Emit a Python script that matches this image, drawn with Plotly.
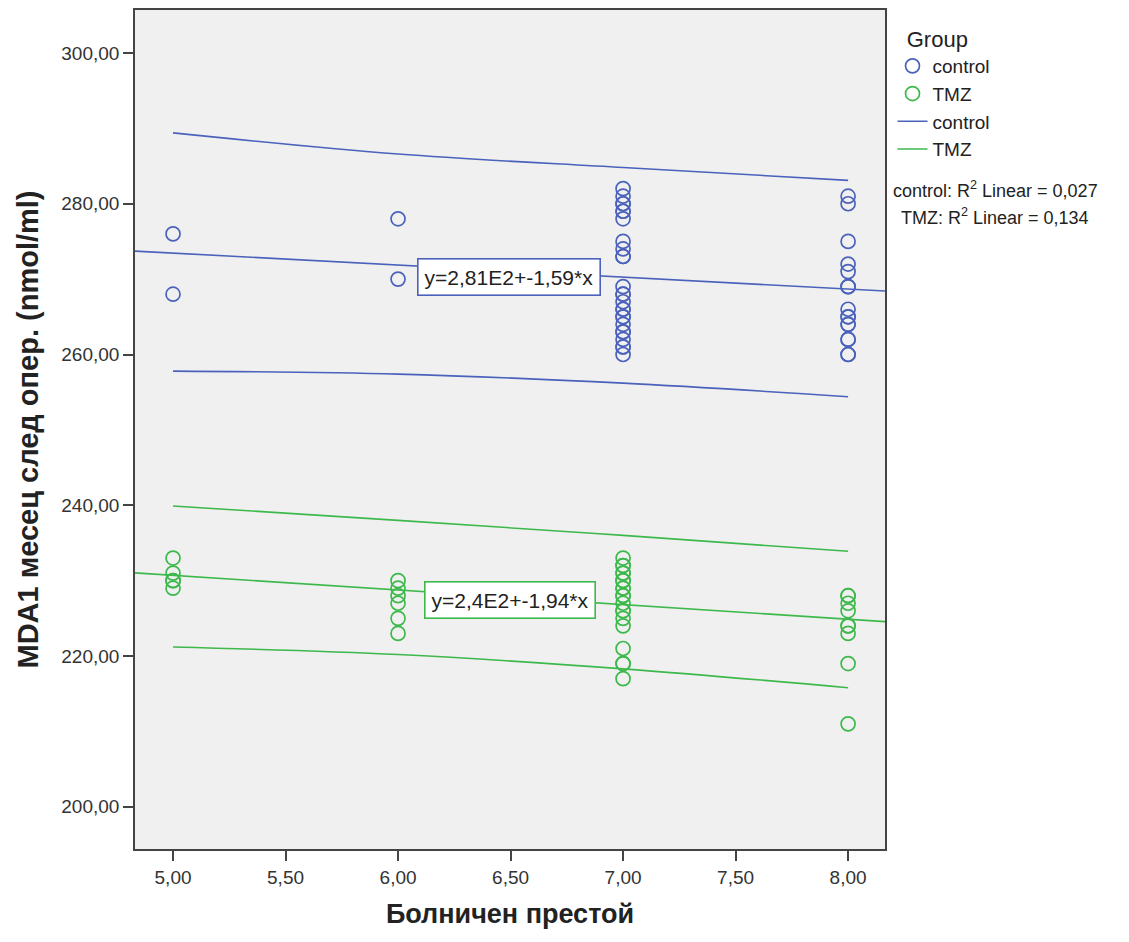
import plotly.graph_objects as go

# ---- data ----
ctrl_x = [5, 5, 6, 6] + [7] * 26 + [8] * 16
ctrl_y = [276, 268, 278, 270,
          282, 281, 280, 280, 279, 279, 278, 275, 274, 273, 273,
          269, 268, 268, 267, 266, 266, 265, 265, 264, 263, 263, 262, 261, 261, 260,
          281, 280, 275, 272, 271, 269, 269, 266, 265, 265, 264, 264, 262, 262, 260, 260]

tmz_x = [5] * 5 + [6] * 6 + [7] * 20 + [8] * 9
tmz_y = [233, 231, 230, 230, 229,
         230, 229, 228, 227, 225, 223,
         233, 232, 232, 231, 231, 230, 230, 229, 229, 228, 228, 227, 226, 226, 225, 224, 221, 219, 219, 217,
         228, 228, 227, 226, 224, 224, 223, 219, 211]

# fit coefficients (intercept, slope)
ctrl_fit = (281.4, -1.59)
tmz_fit = (240.4, -1.94)

# prediction-interval bands read at x = 5..8
band_x = [5, 6, 7, 8]
ctrl_upper = [289.4, 286.6, 284.8, 283.1]
ctrl_lower = [257.8, 257.4, 256.2, 254.4]
tmz_upper = [239.9, 238.0, 236.0, 233.9]
tmz_lower = [221.2, 220.2, 218.3, 215.8]

x_ticks = [5.0, 5.5, 6.0, 6.5, 7.0, 7.5, 8.0]
x_tick_labels = ["5,00", "5,50", "6,00", "6,50", "7,00", "7,50", "8,00"]
y_ticks = [200, 220, 240, 260, 280, 300]
y_tick_labels = ["200,00", "220,00", "240,00", "260,00", "280,00", "300,00"]

X_RANGE = [4.831, 8.164]
Y_RANGE = [194.4, 305.7]

BLUE = "#4A62BC"
GREEN = "#3DB94B"
FONT = "Arial, Liberation Sans, sans-serif"

fig = go.Figure()

fig.add_trace(go.Scatter(x=ctrl_x, y=ctrl_y, mode="markers", name="control",
                         marker=dict(symbol="circle-open", size=14, color=BLUE, line=dict(width=1.7, color=BLUE))))
fig.add_trace(go.Scatter(x=tmz_x, y=tmz_y, mode="markers", name="TMZ",
                         marker=dict(symbol="circle-open", size=14, color=GREEN, line=dict(width=1.7, color=GREEN))))

fit_x = X_RANGE
fig.add_trace(go.Scatter(x=fit_x, y=[ctrl_fit[0] + ctrl_fit[1] * v for v in fit_x], mode="lines",
                         name="control", line=dict(color=BLUE, width=1.6)))
fig.add_trace(go.Scatter(x=fit_x, y=[tmz_fit[0] + tmz_fit[1] * v for v in fit_x], mode="lines",
                         name="TMZ", line=dict(color=GREEN, width=1.6)))

for ys, c in [(ctrl_upper, BLUE), (ctrl_lower, BLUE), (tmz_upper, GREEN), (tmz_lower, GREEN)]:
    fig.add_trace(go.Scatter(x=band_x, y=ys, mode="lines", showlegend=False,
                             line=dict(color=c, width=1.6, shape="spline"), hoverinfo="skip"))

fig.add_annotation(x=6.493, y=270.3, text="y=2,81E2+-1,59*x", showarrow=False,
                   font=dict(family=FONT, size=21, color="#222"), bgcolor="white",
                   bordercolor=BLUE, borderwidth=1.6, borderpad=6)
fig.add_annotation(x=6.498, y=227.4, text="y=2,4E2+-1,94*x", showarrow=False,
                   font=dict(family=FONT, size=21, color="#222"), bgcolor="white",
                   bordercolor=GREEN, borderwidth=1.6, borderpad=6)

fig.add_annotation(xref="paper", yref="paper", x=1.147, y=0.786, xanchor="center", yanchor="middle",
                   text="control: R<sup>2</sup> Linear = 0,027", showarrow=False,
                   font=dict(family=FONT, size=18, color="#222"))
fig.add_annotation(xref="paper", yref="paper", x=1.147, y=0.754, xanchor="center", yanchor="middle",
                   text="TMZ: R<sup>2</sup> Linear = 0,134", showarrow=False,
                   font=dict(family=FONT, size=18, color="#222"))

fig.update_layout(
    width=1129, height=942,
    margin=dict(l=135, r=244, t=8, b=93),
    paper_bgcolor="white", plot_bgcolor="#F0F0F0",
    font=dict(family=FONT, color="#222"),
    showlegend=True,
    legend=dict(x=1.01, y=0.99, xanchor="left", yanchor="top",
                title=dict(text="  Group", font=dict(size=22, family=FONT)),
                font=dict(size=19, family=FONT), tracegroupgap=0, itemwidth=30,
                bgcolor="rgba(0,0,0,0)"),
    xaxis=dict(range=X_RANGE, tickvals=x_ticks, ticktext=x_tick_labels,
               showgrid=False, zeroline=False, showline=True, mirror=True,
               linecolor="#444", linewidth=1.6, ticks="outside", ticklen=10,
               tickwidth=1.6, tickcolor="#444",
               tickfont=dict(size=19, color="#333"),
               title=dict(text="<b>Болничен престой</b>", font=dict(size=27, color="#222"), standoff=18)),
    yaxis=dict(range=Y_RANGE, tickvals=y_ticks, ticktext=y_tick_labels,
               showgrid=False, zeroline=False, showline=True, mirror=True,
               linecolor="#444", linewidth=1.6, ticks="outside", ticklen=10,
               tickwidth=1.6, tickcolor="#444",
               tickfont=dict(size=19, color="#333"),
               title=dict(text="<b>MDA1 месец след опер. (nmol/ml)</b>", font=dict(size=29, color="#222"), standoff=14)),
)

fig.write_html("out.html")
